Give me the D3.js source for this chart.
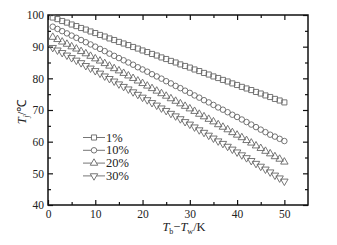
<!DOCTYPE html>
<html><head><meta charset="utf-8">
<script src="https://cdn.jsdelivr.net/npm/d3@7"></script>
<style>body{margin:0;background:#fff}svg{display:block}text{font-family:"Liberation Serif","Times New Roman",serif;fill:#222}</style>
</head><body><svg id="c" width="337" height="245"></svg>
<script>
const xs = d3.range(1, 51);
const s1 = [99.2,98.7,98.1,97.6,97.0,96.5,95.9,95.4,94.8,94.3,93.7,93.2,92.6,92.1,91.5,91.0,90.5,89.9,89.4,88.8,88.3,87.7,87.2,86.6,86.1,85.5,85.0,84.4,83.9,83.4,82.8,82.3,81.7,81.2,80.6,80.1,79.5,79.0,78.4,77.9,77.3,76.8,76.3,75.7,75.2,74.6,74.1,73.5,73.0,72.4];
const s10 = [96.3,95.6,94.9,94.2,93.5,92.8,92.1,91.4,90.7,90.0,89.3,88.6,87.8,87.1,86.4,85.7,85.0,84.3,83.5,82.8,82.1,81.3,80.6,79.9,79.1,78.4,77.6,76.9,76.1,75.4,74.6,73.9,73.1,72.4,71.6,70.8,70.1,69.3,68.5,67.8,67.0,66.2,65.4,64.6,63.8,63.0,62.2,61.6,60.9,60.2];
const s20 = [93.0,92.3,91.5,90.8,90.0,89.3,88.5,87.8,87.0,86.2,85.5,84.7,83.9,83.1,82.4,81.6,80.8,80.0,79.2,78.4,77.6,76.8,76.0,75.2,74.4,73.6,72.8,72.0,71.2,70.4,69.6,68.7,67.9,67.1,66.3,65.4,64.6,63.8,62.9,62.1,61.3,60.4,59.6,58.7,57.9,57.0,56.2,55.3,54.5,53.6];
const s30 = [89.7,88.9,88.1,87.3,86.5,85.7,84.9,84.0,83.2,82.4,81.6,80.7,79.9,79.1,78.2,77.4,76.6,75.7,74.9,74.0,73.2,72.3,71.5,70.6,69.8,68.9,68.1,67.2,66.3,65.5,64.6,63.7,62.9,62.0,61.1,60.2,59.4,58.5,57.6,56.7,55.8,54.9,54.0,53.1,52.2,51.3,50.4,49.4,48.5,47.5];
const seriesNames = ["1%","10%","20%","30%"];
const xTicks = [0,10,20,30,40,50];
const yTicks = [40,50,60,70,80,90,100];

const svg = d3.select("#c");
const L=48, R=308, T=15, B=205;
const x = d3.scaleLinear([0,55],[L,R]);
const y = d3.scaleLinear([40,100],[B,T]);
const col = "#666";

const minorX = d3.range(5,55,10), minorY = d3.range(45,100,10);
function ax(gen, tr, ticks, size, labels){
  const g = svg.append("g").attr("transform",tr).call(gen.tickValues(ticks).tickSize(size).tickPadding(labels?5:0).tickFormat(labels?d3.format("d"):""));
  g.select(".domain").remove();
  g.selectAll("line").attr("stroke","#111").attr("stroke-width",1.2);
  g.selectAll("text").style("font-size","11.5px").attr("fill","#222");
  return g;
}
ax(d3.axisBottom(x), `translate(0,${B})`, xTicks, -5, true).selectAll("text").attr("dy","0.71em");
ax(d3.axisBottom(x), `translate(0,${B})`, minorX, -3, false);
ax(d3.axisTop(x), `translate(0,${T})`, xTicks, -5, false);
ax(d3.axisTop(x), `translate(0,${T})`, minorX, -3, false);
ax(d3.axisLeft(y), `translate(${L},0)`, yTicks, -5, true).selectAll("text").attr("dx","1px");
ax(d3.axisLeft(y), `translate(${L},0)`, minorY, -3, false);
ax(d3.axisRight(y), `translate(${R},0)`, yTicks, -5, false);
ax(d3.axisRight(y), `translate(${R},0)`, minorY, -3, false);
svg.append("rect").attr("x",L).attr("y",T).attr("width",R-L).attr("height",B-T).attr("fill","none").attr("stroke","#111").attr("stroke-width",1.5);

const sym = [
  d3.symbol().type(d3.symbolSquare).size(26),
  d3.symbol().type(d3.symbolCircle).size(24),
  d3.symbol().type(d3.symbolTriangle).size(24),
  d3.symbol().type(d3.symbolTriangle).size(24)
];
const rot = [0,0,0,180];
const all = [s1,s10,s20,s30];
all.forEach((s,i)=>{
  svg.append("g").selectAll("path").data(s).join("path")
    .attr("d", sym[i]())
    .attr("transform",(d,j)=>`translate(${x(xs[j])},${y(d)}) rotate(${rot[i]})`)
    .attr("fill","none").attr("stroke",col).attr("stroke-width",0.9);
});

const lg = svg.append("g");
seriesNames.forEach((n,i)=>{
  const yy = 137.5 + i*12.8;
  lg.append("line").attr("x1",83).attr("x2",105).attr("y1",yy).attr("y2",yy).attr("stroke",col).attr("stroke-width",0.9);
  lg.append("path").attr("d",sym[i]()).attr("transform",`translate(94,${yy}) rotate(${rot[i]})`).attr("fill","#fff").attr("stroke",col).attr("stroke-width",0.9);
  lg.append("text").attr("x",106).attr("y",yy+4).style("font-size","12.5px").text(n);
});

const yl = svg.append("text").attr("transform","translate(26,112) rotate(-90)").attr("text-anchor","middle").style("font-size","12.5px");
yl.append("tspan").attr("font-style","italic").text("T");
yl.append("tspan").attr("font-style","italic").attr("dy","3").style("font-size","8px").text("j");
yl.append("tspan").attr("dy","-3").text("/℃");
const xl = svg.append("text").attr("x",184).attr("y",231).attr("text-anchor","middle").style("font-size","12.5px");
xl.append("tspan").attr("font-style","italic").text("T");
xl.append("tspan").attr("dy","3").style("font-size","8px").text("b");
xl.append("tspan").attr("dy","-3").text("−");
xl.append("tspan").attr("font-style","italic").text("T");
xl.append("tspan").attr("dy","3").style("font-size","8px").text("w");
xl.append("tspan").attr("dy","-3").text("/K");
</script></body></html>
